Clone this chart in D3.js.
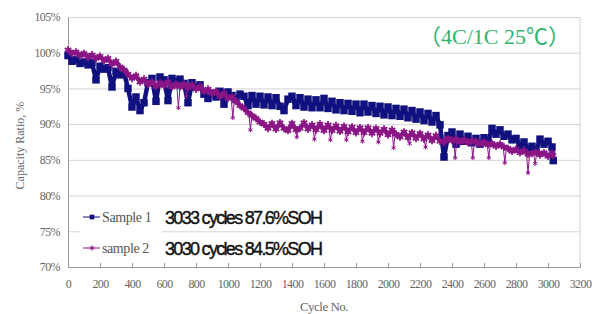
<!DOCTYPE html>
<html>
<head>
<meta charset="utf-8">
<script src="https://cdn.jsdelivr.net/npm/d3@7"></script>
<style>
  body { margin: 0; background: #fff; }
  .tick text { font-family: "Liberation Serif", serif; fill: #666; }
</style>
</head>
<body>
<svg id="chart" width="600" height="314"></svg>
<script>
// ----- data -----
const cycles1 = [0,25,50,75,100,125,150,175,200,225,250,275,300,325,350,375,400,425,450,475,
  500,525,550,575,600,625,650,675,700,725,750,775,800,825,850,875,900,925,950,975,
  1000,1025,1050,1075,1100,1125,1150,1175,1200,1225,1250,1275,1300,1325,1350,1375,1400,1425,1450,1475,
  1500,1525,1550,1575,1600,1625,1650,1675,1700,1725,1750,1775,1800,1825,1850,1875,1900,1925,1950,1975,
  2000,2025,2050,2075,2100,2125,2150,2175,2200,2225,2250,2275,2300,2325,2350,2375,2400,2425,2450,2475,
  2500,2525,2550,2575,2600,2625,2650,2675,2700,2725,2750,2775,2800,2825,2850,2875,2900,2925,2950,2975,
  3000,3025,3033];
const cap1 = [99.6,98.8,99.0,98.5,98.7,98.3,98.6,96.2,98.1,97.7,97.9,95.2,97.4,96.9,97.2,95.0,92.4,93.8,91.9,93.0,
  95.8,96.4,93.2,96.6,96.2,93.3,96.4,96.0,96.3,95.7,93.0,95.8,95.2,95.5,94.2,93.6,94.3,93.8,94.6,92.8,
  94.5,94.0,93.5,94.2,93.9,92.6,94.0,92.8,93.9,92.7,93.8,92.6,93.7,92.5,91.9,93.5,93.9,92.6,93.7,92.4,
  93.5,92.3,93.4,92.3,93.6,92.2,93.2,92.0,93.0,91.9,92.9,91.8,92.8,91.6,92.8,91.7,92.6,91.5,92.5,91.3,
  92.4,91.2,92.2,91.1,92.1,90.9,91.9,90.7,91.7,90.5,91.5,90.3,91.2,89.9,85.4,88.4,88.9,87.2,88.6,87.6,
  88.3,87.4,88.0,87.2,88.1,87.5,89.4,88.6,89.2,88.3,88.6,87.8,88.0,87.0,87.5,86.5,86.9,86.2,87.9,87.2,
  87.6,86.8,84.9];

const cycles2 = [0,25,50,75,100,125,150,175,200,225,250,275,300,325,350,375,400,425,450,475,
  500,525,550,575,600,625,650,675,700,725,750,775,800,825,850,875,900,925,950,975,
  1000,1025,1050,1075,1100,1125,1150,1175,1200,1225,1250,1275,1300,1325,1350,1375,1400,1425,1450,1475,
  1500,1525,1550,1575,1600,1625,1650,1675,1700,1725,1750,1775,1800,1825,1850,1875,1900,1925,1950,1975,
  2000,2025,2050,2075,2100,2125,2150,2175,2200,2225,2250,2275,2300,2325,2350,2375,2400,2425,2450,2475,
  2500,2525,2550,2575,2600,2625,2650,2675,2700,2725,2750,2775,2800,2825,2850,2875,2900,2925,2950,2975,
  3000,3025,3030];
const cap2 = [100.4,99.9,100.1,99.6,99.9,99.4,99.7,99.2,99.5,98.9,99.2,98.4,98.8,98.0,97.6,97.0,96.4,96.8,95.9,96.3,
  95.6,95.9,95.3,95.8,95.4,95.9,95.2,95.6,95.2,95.6,95.1,95.5,94.9,95.3,94.6,94.9,94.3,94.6,93.9,94.3,
  93.6,93.8,93.2,92.6,92.2,91.6,91.2,90.8,90.3,90.0,89.4,90.1,89.3,90.2,89.4,89.1,90.1,89.2,89.4,90.2,
  89.3,89.9,89.2,90.0,89.1,89.9,89.1,89.8,89.0,89.7,88.9,89.6,88.8,89.5,88.8,89.5,88.7,89.4,88.7,89.3,
  88.5,89.2,88.6,88.2,88.9,88.1,88.8,88.0,88.7,87.9,88.5,87.7,88.4,87.6,87.6,88.0,87.7,87.9,87.5,87.8,
  87.4,87.7,87.6,87.2,87.5,87.1,87.3,86.9,87.2,86.8,86.6,86.2,86.5,86.0,86.3,85.8,85.9,86.1,85.7,86.0,
  85.5,85.9,85.6];
// single low readings of sample 2
const dipCycles2 = [690,740,1030,1140,1430,1540,1640,1740,1840,1940,2035,2135,2235,2350,2420,2530,2630,2730,2875,2920];
const dipCap2 = [92.3,93.9,90.9,89.2,88.2,87.9,87.8,87.8,87.6,87.5,86.7,87.3,86.8,87.2,85.3,85.3,85.3,84.6,83.2,84.5];

const xTicks = [0,200,400,600,800,1000,1200,1400,1600,1800,2000,2200,2400,2600,2800,3000,3200];
const yTicks = [70,75,80,85,90,95,100,105];
const seriesNames = ["Sample 1", "sample 2"];
const notes = ["3033 cycles 87.6%SOH", "3030 cycles 84.5%SOH"];
const title = "（4C/1C 25℃）";

const svg = d3.select("#chart");
const margins = {top: 17, right: 20, bottom: 47, left: 68};
const chartWidth = svg.attr("width") - margins.left - margins.right;
const chartHeight = svg.attr("height") - margins.top - margins.bottom;

const scaleX = d3.scaleLinear().domain([0, 3200]).range([margins.left, margins.left + chartWidth]);
const scaleY = d3.scaleLinear().domain([70, 105]).range([margins.top + chartHeight, margins.top]);

// gridlines
svg.append("g")
   .attr("transform", `translate(${margins.left},0)`)
   .call(d3.axisLeft(scaleY).tickValues(yTicks).tickSize(-chartWidth).tickFormat(""))
   .call(g => g.select(".domain").remove())
   .call(g => g.selectAll("line").attr("stroke", "#d4d4d4"));
// right border
svg.append("line")
   .attr("x1", scaleX(3200)).attr("x2", scaleX(3200))
   .attr("y1", scaleY(105)).attr("y2", scaleY(70))
   .attr("stroke", "#d4d4d4");

// y axis
svg.append("g")
   .attr("transform", `translate(${margins.left},0)`)
   .call(d3.axisLeft(scaleY).tickValues(yTicks).tickSize(0).tickPadding(8).tickFormat(d => d + "%"))
   .call(g => g.select(".domain").attr("stroke", "#999"))
   .call(g => g.selectAll("text").attr("font-size", 12).attr("letter-spacing", -0.6));

// x axis
svg.append("g")
   .attr("transform", `translate(0,${margins.top + chartHeight})`)
   .call(d3.axisBottom(scaleX).tickValues(xTicks).tickFormat(d3.format("d"))
           .tickSizeInner(-4).tickSizeOuter(0).tickPadding(12))
   .call(g => g.select(".domain").attr("stroke", "#999"))
   .call(g => g.selectAll("line").attr("stroke", "#999"))
   .call(g => g.selectAll("text").attr("font-size", 12).attr("letter-spacing", -0.6));

// axis titles
svg.append("text")
   .attr("transform", `translate(24,${scaleY(87.0)}) rotate(-90)`)
   .attr("text-anchor", "middle")
   .attr("font-family", "Liberation Serif, serif")
   .attr("font-size", 12)
   .attr("fill", "#666")
   .text("Capacity Ratio, %");
svg.append("text")
   .attr("x", scaleX(1600)).attr("y", 311)
   .attr("text-anchor", "middle")
   .attr("font-family", "Liberation Serif, serif")
   .attr("font-size", 13)
   .attr("letter-spacing", -0.5)
   .attr("fill", "#666")
   .text("Cycle No.");

// series
const s1 = cycles1.map((c, i) => [c, cap1[i]]);
const s2 = cycles2.map((c, i) => [c, cap2[i]]);
const line = d3.line().x(d => scaleX(d[0])).y(d => scaleY(d[1]));
const navy = "#10107e";
const purple = "#8a1585";

svg.append("path").datum(s1)
   .attr("fill", "none").attr("stroke", navy).attr("stroke-width", 4.5)
   .attr("stroke-linejoin", "round")
   .attr("d", line);
svg.append("g").selectAll("path")
   .data(s1).join("path")
   .attr("transform", d => `translate(${scaleX(d[0])},${scaleY(d[1])})`)
   .attr("d", d3.symbol(d3.symbolSquare, 56))
   .attr("fill", navy);

// sample 2: low readings drawn as thin spikes from the band
const bis = d3.bisector(d => d[0]).left;
const baseAt = c => {
  const i = Math.max(1, Math.min(s2.length - 1, bis(s2, c)));
  const a = s2[i - 1], b = s2[i];
  return a[1] + (b[1] - a[1]) * (c - a[0]) / (b[0] - a[0]);
};
const dips = dipCycles2.map((c, i) => [c, dipCap2[i]]);
svg.append("g").selectAll("path")
   .data(dips).join("path")
   .attr("d", d => line([[d[0] - 10, baseAt(d[0] - 10)], d, [d[0] + 10, baseAt(d[0] + 10)]]))
   .attr("fill", "none").attr("stroke", purple).attr("stroke-width", 1);
svg.append("g").selectAll("path")
   .data(dips).join("path")
   .attr("transform", d => `translate(${scaleX(d[0])},${scaleY(d[1])})`)
   .attr("d", d3.symbol(d3.symbolAsterisk, 16))
   .attr("fill", "none").attr("stroke", purple).attr("stroke-width", 1);

svg.append("path").datum(s2)
   .attr("fill", "none").attr("stroke", purple).attr("stroke-width", 4.5)
   .attr("stroke-linejoin", "round")
   .attr("d", line);
svg.append("g").selectAll("path")
   .data(s2).join("path")
   .attr("transform", d => `translate(${scaleX(d[0])},${scaleY(d[1])})`)
   .attr("d", d3.symbol(d3.symbolAsterisk, 40))
   .attr("fill", "none").attr("stroke", purple).attr("stroke-width", 1.7);

// legend
const legend = svg.append("g");
legend.append("rect")
   .attr("x", 80).attr("y", 204).attr("width", 82).attr("height", 58)
   .attr("fill", "#fff");
const legendRows = [{y: 217, color: navy, symbol: d3.symbolSquare, size: 22},
                    {y: 248, color: purple, symbol: d3.symbolAsterisk, size: 18}];
legendRows.forEach((r, i) => {
  legend.append("line")
     .attr("x1", 83).attr("x2", 100).attr("y1", r.y).attr("y2", r.y)
     .attr("stroke", r.color).attr("stroke-width", 1);
  legend.append("path")
     .attr("transform", `translate(92,${r.y})`)
     .attr("d", d3.symbol(r.symbol, r.size))
     .attr("fill", i === 0 ? r.color : "none")
     .attr("stroke", r.color).attr("stroke-width", i === 0 ? 0 : 1);
  legend.append("text")
     .attr("x", 102).attr("y", r.y + 5)
     .attr("font-family", "Liberation Serif, serif")
     .attr("font-size", 14)
     .attr("letter-spacing", -0.4)
     .attr("fill", "#555")
     .text(seriesNames[i]);
  svg.append("text")
     .attr("x", 165).attr("y", r.y + 7)
     .attr("font-family", "Liberation Sans Narrow, Arial Narrow, sans-serif")
     .attr("font-size", 18)
     .attr("fill", "#111")
     .attr("stroke", "#111").attr("stroke-width", 0.4)
     .attr("textLength", 158)
     .text(notes[i]);
});

// title
svg.append("text")
   .attr("x", 570).attr("y", 44)
   .attr("text-anchor", "end")
   .attr("font-family", "Liberation Serif, Noto Sans CJK SC, serif")
   .attr("font-size", 22)
   .attr("fill", "#2fb36b")
   .text(title);
</script>
</body>
</html>
